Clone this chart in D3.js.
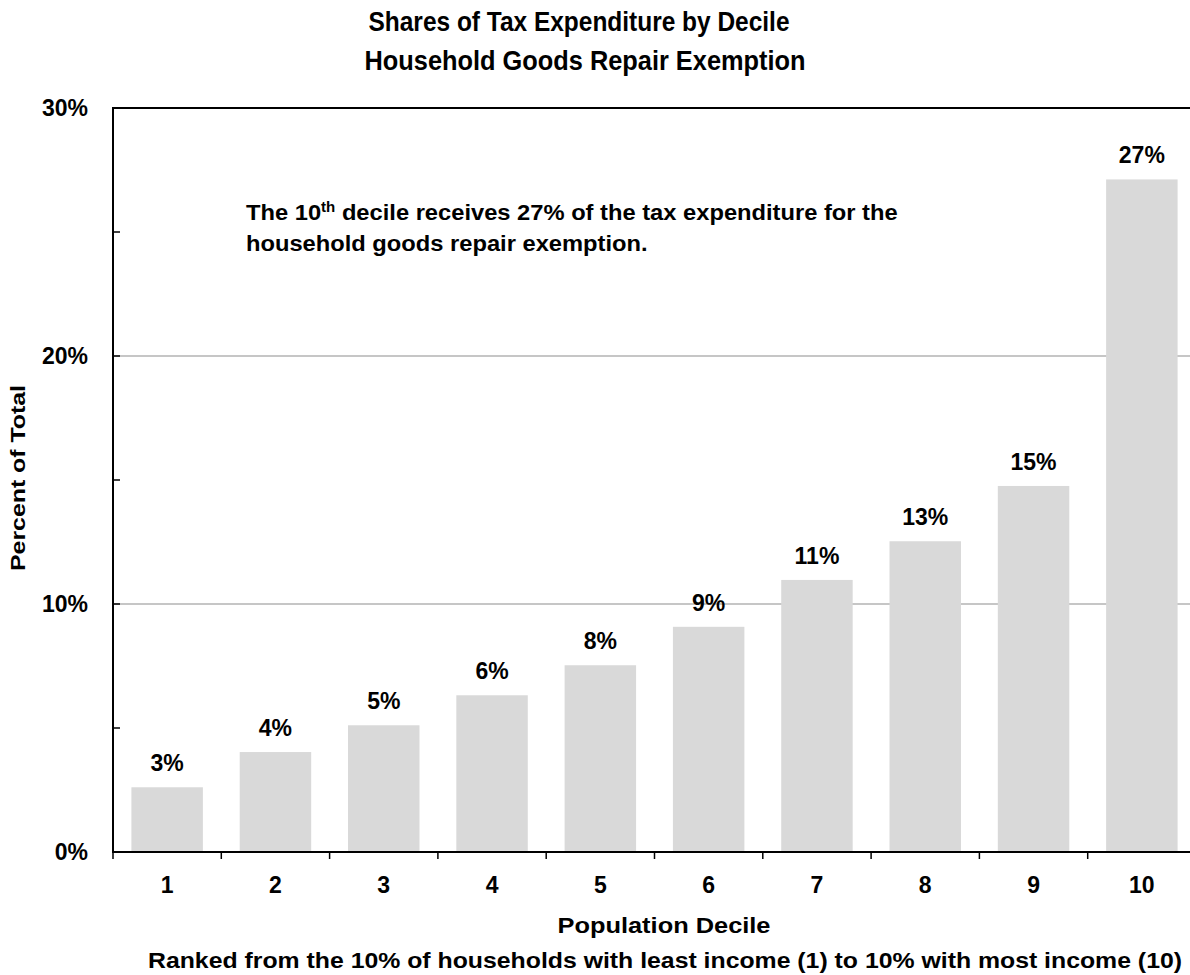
<!DOCTYPE html>
<html>
<head>
<meta charset="utf-8">
<script src="https://cdn.jsdelivr.net/npm/d3@7"></script>
<style>
  html, body { margin: 0; padding: 0; background: #fff; }
  svg { display: block; }
  text { font-family: "Liberation Sans Narrow", "Liberation Sans", Arial, sans-serif; font-weight: bold; fill: #000; }
</style>
</head>
<body>
<svg id="chart" width="1190" height="975"></svg>
<script>
// ---- data ----
const deciles = ["1", "2", "3", "4", "5", "6", "7", "8", "9", "10"];
const shares = [2.61, 4.03, 5.11, 6.32, 7.53, 9.08, 10.97, 12.53, 14.76, 27.12];
const yTicks = [0, 10, 20, 30];
const yMinorTicks = [5, 15, 25];
const gridValues = [10, 20];
const titleLines = ["Shares of Tax Expenditure by Decile", "Household Goods Repair Exemption"];
const xTitle = "Population Decile";
const xSubtitle = "Ranked from the 10% of households with least income (1) to 10% with most income (10)";
const yTitle = "Percent of Total";

// ---- layout ----
const W = 1190, H = 975;
const plot = { left: 113, right: 1196, top: 108, bottom: 852 };
const svg = d3.select("#chart");

const x = d3.scaleBand().domain(deciles).range([plot.left, plot.right])
  .paddingInner(0.34).paddingOuter(0.17);
const y = d3.scaleLinear().domain([0, 30]).range([plot.bottom, plot.top]);

function fitText(sel, w) {
  sel.attr("textLength", w).attr("lengthAdjust", "spacingAndGlyphs");
}

// gridlines
svg.append("g").selectAll("line").data(gridValues).join("line")
  .attr("x1", plot.left).attr("x2", W)
  .attr("y1", d => y(d)).attr("y2", d => y(d))
  .attr("stroke", "#b3b3b3").attr("stroke-width", 1.5);

// bars
svg.append("g").selectAll("rect").data(shares).join("rect")
  .attr("x", (d, i) => x(deciles[i]))
  .attr("width", x.bandwidth())
  .attr("y", d => y(d))
  .attr("height", d => y(0) - y(d))
  .attr("fill", "#d9d9d9");

// value labels
svg.append("g").selectAll("text").data(shares).join("text")
  .attr("x", (d, i) => x(deciles[i]) + x.bandwidth() / 2)
  .attr("y", d => y(d) - 16)
  .attr("text-anchor", "middle")
  .style("font-size", "23px")
  .text(d => d3.format(".0%")(Math.round(d) / 100));

// top border
svg.append("line")
  .attr("x1", plot.left - 1).attr("x2", W)
  .attr("y1", y(30)).attr("y2", y(30))
  .attr("stroke", "#000").attr("stroke-width", 2);

// y axis
const yAxis = svg.append("g");
yAxis.append("line")
  .attr("x1", plot.left).attr("x2", plot.left)
  .attr("y1", plot.top - 1).attr("y2", plot.bottom + 1)
  .attr("stroke", "#000").attr("stroke-width", 2);
yAxis.selectAll("line.tick").data(yTicks.concat(yMinorTicks)).join("line")
  .attr("class", "tick")
  .attr("x1", plot.left).attr("x2", plot.left + 7)
  .attr("y1", d => y(d)).attr("y2", d => y(d))
  .attr("stroke", "#000").attr("stroke-width", 1.5);
yAxis.selectAll("text").data(yTicks).join("text")
  .attr("x", plot.left - 25)
  .attr("y", d => y(d) + 8)
  .attr("text-anchor", "end")
  .style("font-size", "23px")
  .text(d => d + "%");

// x axis
const xAxis = svg.append("g");
xAxis.append("line")
  .attr("x1", plot.left - 1).attr("x2", W)
  .attr("y1", plot.bottom).attr("y2", plot.bottom)
  .attr("stroke", "#000").attr("stroke-width", 2);
const boundaries = deciles.map(d => x(d) - x.step() * x.paddingOuter());
xAxis.selectAll("line.tick").data(boundaries).join("line")
  .attr("class", "tick")
  .attr("x1", d => d).attr("x2", d => d)
  .attr("y1", plot.bottom).attr("y2", plot.bottom + 7)
  .attr("stroke", "#000").attr("stroke-width", 1.5);
xAxis.selectAll("text").data(deciles).join("text")
  .attr("x", d => x(d) + x.bandwidth() / 2)
  .attr("y", plot.bottom + 41)
  .attr("text-anchor", "middle")
  .style("font-size", "23px")
  .text(d => d);

// titles
svg.append("text").attr("x", 579).attr("y", 31).attr("text-anchor", "middle")
  .style("font-size", "28px").text(titleLines[0]).call(fitText, 421);
svg.append("text").attr("x", 585).attr("y", 70).attr("text-anchor", "middle")
  .style("font-size", "28px").text(titleLines[1]).call(fitText, 441);

// axis titles
svg.append("text").attr("x", 664).attr("y", 933).attr("text-anchor", "middle")
  .style("font-size", "22px").text(xTitle).call(fitText, 213);
svg.append("text").attr("x", 665).attr("y", 968).attr("text-anchor", "middle")
  .style("font-size", "22px").text(xSubtitle).call(fitText, 1034);
svg.append("text").attr("transform", "translate(25,478) rotate(-90)")
  .attr("text-anchor", "middle")
  .style("font-size", "21px").text(yTitle).call(fitText, 186);

// annotation
const ann = svg.append("g");
const t1 = ann.append("text").attr("x", 246).attr("y", 220).style("font-size", "22px");
t1.append("tspan").text("The 10");
t1.append("tspan").attr("dy", -8).style("font-size", "14px").text("th");
t1.append("tspan").attr("dy", 8).text(" decile receives 27% of the tax expenditure for the");
const t2 = ann.append("text").attr("x", 246).attr("y", 251).style("font-size", "22px")
  .text("household goods repair exemption.");
// horizontally scale annotation to match reference line widths
const w1 = t1.node().getComputedTextLength();
const sx = 652 / w1;
ann.attr("transform", `translate(${246 - 246 * sx},0) scale(${sx},1)`);
</script>
</body>
</html>
